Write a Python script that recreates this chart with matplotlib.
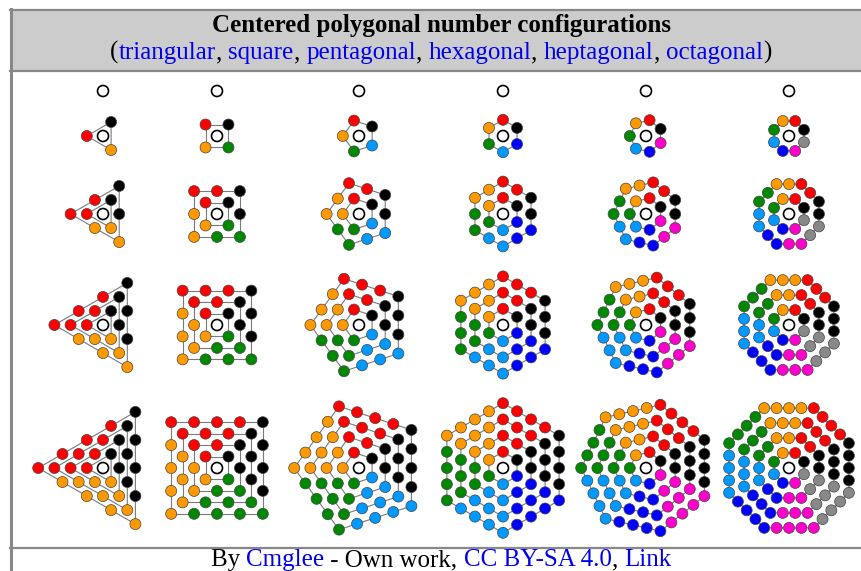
import numpy as np
import matplotlib
matplotlib.use("Agg")
import matplotlib.pyplot as plt
from matplotlib.patches import Circle, Rectangle

# data
sides = [3, 4, 5, 6, 7, 8]
layers = [0, 1, 2, 3, 4]
# side colours, anticlockwise from the black right-hand side
side_colours = ['#ff0000', '#ff9900', '#008800', '#0099ff', '#0000ff', '#ff00cc', '#888888']
title = 'Centered polygonal number configurations'
names = ['triangular', 'square', 'pentagonal', 'hexagonal', 'heptagonal', 'octagonal']
credit = [('By ', 'k'), ('Cmglee', 'b'), (' - Own work, ', 'k'),
          ('CC BY-SA 4.0', 'b'), (', ', 'k'), ('Link', 'b')]

# layout (pixels)
W, H = 861, 571
col_x = [103, 217, 359, 503, 646, 789]
row_y = [91, 136, 214, 325, 468]
step = 16.2      # circumradius added per layer
dot_r = 5.5
link = '#0000ee'
serif = 'Liberation Serif'
fs = 18

fig = plt.figure(figsize=(W / 100, H / 100), dpi=100)
ax = fig.add_axes([0, 0, 1, 1])
ax.set_xlim(0, W)
ax.set_ylim(H, 0)
ax.axis('off')

# frame
ax.add_patch(Rectangle((10, 10), W - 10, 60, fc='#cccccc', ec='none', zorder=0))
ax.plot([10, W], [9.5, 9.5], color='#888888', lw=1.6)
ax.plot([10, W], [70.5, 70.5], color='#888888', lw=1.6)
ax.plot([10, W], [548, 548], color='#888888', lw=1.6)
ax.plot([10.5, 10.5], [8.5, H], color='#888888', lw=2.2)


def ring(k, n, cx, cy):
    ang = np.radians(180 / k - 360 / k * np.arange(k + 1))
    vx = cx + step * n * np.cos(ang)
    vy = cy - step * n * np.sin(ang)
    cols = ['black'] + side_colours[:k - 1][::-1]
    pts = []
    for j in range(k):
        for t in range(n):
            f = t / n
            pts.append((vx[j] + (vx[j + 1] - vx[j]) * f,
                        vy[j] + (vy[j + 1] - vy[j]) * f, cols[j]))
    return vx, vy, pts


for k, cx in zip(sides, col_x):
    for n, cy in zip(layers, row_y):
        for m in range(1, n + 1):
            vx, vy, pts = ring(k, m, cx, cy)
            ax.plot(vx, vy, color='#7a7a7a', lw=0.8, zorder=1)
            for x, y, c in pts:
                ax.add_patch(Circle((x, y), dot_r, fc=c, ec='#444444', lw=0.5, zorder=3))
        ax.add_patch(Circle((cx, cy), dot_r, fc='white', ec='black', lw=1.2, zorder=3))

# text
r = fig.canvas.get_renderer()


def text_width(s, **kw):
    t = ax.text(0, 0, '|' + s + '|', **kw)
    t2 = ax.text(0, 0, '||', **kw)
    w = t.get_window_extent(r).width - t2.get_window_extent(r).width
    t.remove()
    t2.remove()
    return w


def coloured_line(parts, xmid, y, **kw):
    widths = [text_width(s, **kw) for s, c in parts]
    x = xmid - sum(widths) / 2
    for (s, c), w in zip(parts, widths):
        ax.text(x, y, s, color=link if c == 'b' else 'black', ha='left', va='baseline', **kw)
        x += w


ax.text(442, 32, title, ha='center', va='baseline', family=serif,
        fontweight='bold', fontsize=fs)

sub = [('(', 'k')]
for i, nm in enumerate(names):
    sub.append((nm, 'b'))
    sub.append((', ' if i < len(names) - 1 else ')', 'k'))
coloured_line(sub, 441, 59, family=serif, fontsize=fs)
coloured_line(credit, 441, 566, family=serif, fontsize=fs)

fig.savefig('out.png', dpi=100)
